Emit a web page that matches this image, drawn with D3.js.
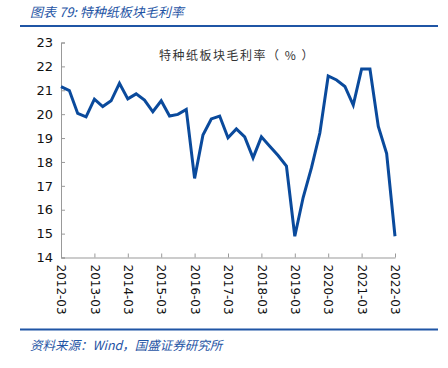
<!DOCTYPE html>
<html>
<head>
<meta charset="utf-8">
<script src="https://cdn.jsdelivr.net/npm/d3@7"></script>
<style>
  body { margin: 0; background: #fff; }
  svg { display: block; }
</style>
</head>
<body>
<svg id="chart" width="448" height="368"></svg>
<script>
// quarterly gross margin, 2012-03 .. 2022-03
var quarters = [];
for (var yr = 2012; yr <= 2022; yr++) {
  ["03", "06", "09", "12"].forEach(function (m) {
    if (yr === 2022 && m !== "03") return;
    quarters.push(yr + "-" + m);
  });
}
var margin = [21.15, 20.99, 20.03, 19.89, 20.63, 20.32, 20.56, 21.29, 20.64, 20.85,
              20.59, 20.10, 20.56, 19.92, 19.99, 20.20, 17.31, 19.13, 19.80, 19.92,
              19.01, 19.38, 19.05, 18.17, 19.05, 18.66, 18.27, 17.83, 14.89, 16.51,
              17.76, 19.21, 21.60, 21.43, 21.16, 20.38, 21.89, 21.89, 19.49, 18.35,
              14.89];
var yTicks = [14, 15, 16, 17, 18, 19, 20, 21, 22, 23];
var xTickLabels = quarters.filter(function (q) { return q.slice(5) === "03"; });

var svg = d3.select("#chart");
var blue = "#1f55a5";

// header
svg.append("text")
  .attr("x", 30).attr("y", 17)
  .style("font-family", "'Noto Sans CJK SC', sans-serif")
  .style("font-size", "13px").style("font-style", "italic")
  .style("fill", blue)
  .text("图表 79:  特种纸板块毛利率");
svg.append("line")
  .attr("x1", 20).attr("x2", 438).attr("y1", 26).attr("y2", 26)
  .style("stroke", blue).style("stroke-width", 2);

var x = d3.scalePoint().domain(quarters).range([61, 395]);
var y = d3.scaleLinear().domain([14, 23]).range([257.5, 42.5]);

// y axis
var yAxis = svg.append("g").attr("transform", "translate(61,0)")
  .call(d3.axisRight(y).tickValues(yTicks).tickSize(4).tickFormat(d3.format("d")));
yAxis.select(".domain").style("stroke", "#999");
yAxis.selectAll(".tick line").style("stroke", "#999");
yAxis.selectAll(".tick text")
  .attr("x", -8).style("text-anchor", "end")
  .style("font-family", "'DejaVu Sans', sans-serif").style("font-size", "13px")
  .style("fill", "#111");

// x axis
var xAxis = svg.append("g").attr("transform", "translate(0,257.5)")
  .call(d3.axisTop(x).tickValues(xTickLabels).tickSize(4).tickSizeOuter(0));
xAxis.select(".domain").style("stroke", "#999");
xAxis.selectAll(".tick line").style("stroke", "#999");
xAxis.selectAll(".tick text")
  .attr("transform", "rotate(90)")
  .attr("x", 7).attr("y", 0).attr("dy", "0.35em")
  .style("text-anchor", "start")
  .style("font-family", "'DejaVu Sans', sans-serif").style("font-size", "12px")
  .style("fill", "#111");

// line
var line = d3.line()
  .x(function (d, i) { return x(quarters[i]); })
  .y(function (d) { return y(d); });
svg.append("path").datum(margin)
  .attr("d", line)
  .style("fill", "none").style("stroke", "#0a4a9c")
  .style("stroke-width", 3).style("stroke-linejoin", "miter");

// inner title
svg.append("text")
  .attr("x", 237).attr("y", 60)
  .style("text-anchor", "middle")
  .style("font-family", "'Noto Sans CJK SC', sans-serif")
  .style("font-size", "12px").style("letter-spacing", "1.5px")
  .style("fill", "#333")
  .text("特种纸板块毛利率（ % ）");

// footer
svg.append("line")
  .attr("x1", 20).attr("x2", 438).attr("y1", 329.5).attr("y2", 329.5)
  .style("stroke", blue).style("stroke-width", 2);
svg.append("text")
  .attr("x", 30).attr("y", 350)
  .style("font-family", "'Noto Sans CJK SC', sans-serif")
  .style("font-size", "12.5px").style("font-style", "italic")
  .style("fill", blue)
  .text("资料来源：Wind，国盛证券研究所");
</script>
</body>
</html>
